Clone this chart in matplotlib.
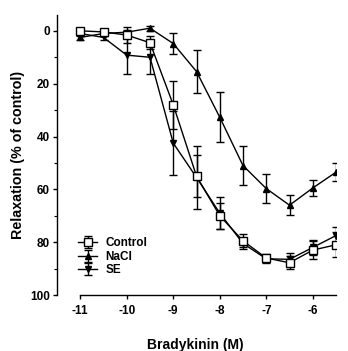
import numpy as np
import matplotlib
matplotlib.use("Agg")
import matplotlib.pyplot as plt
from matplotlib.ticker import MultipleLocator

plt.rcParams['font.family'] = ['Liberation Sans', 'DejaVu Sans']
plt.rcParams['font.weight'] = 'bold'

# log concentration of bradykinin
log_conc = [-11, -10.5, -10, -9.5, -9, -8.5, -8, -7.5, -7, -6.5, -6, -5.5]

# relaxation (% of control) with SEM
control = [0, 0.4, 1.6, 4.5, 28, 55, 70, 79.5, 86, 87.8, 83, 81]
control_err = [1, 1, 3, 2.5, 9, 8, 5, 2.5, 1.5, 2.5, 3.5, 4.7]

nacl = [2.5, 1, 0.5, -1, 4.8, 15.4, 32.7, 51, 59.7, 66, 59.5, 53.5]
nacl_err = [1, 1, 1, 1, 3.8, 8, 9.5, 7.5, 5.6, 3.8, 3.2, 3.5]

se = [1, 2.5, 9.2, 10, 42.5, 55.5, 69, 80.5, 86.3, 86.5, 82, 77.5]
se_err = [1, 1, 7, 6.5, 12, 12, 6, 2, 1.5, 2.5, 3, 3.2]

x_ticks = [-11, -10, -9, -8, -7, -6]
y_ticks = [0, 20, 40, 60, 80, 100]

fig = plt.figure(figsize=(3.48, 3.51), dpi=100)
ax = fig.add_axes([57 / 348, 1 - 295 / 351, 279 / 348, 280 / 351])

common = dict(color='black', lw=1.0, elinewidth=1.0, capsize=3, capthick=1.0)
ax.errorbar(log_conc, nacl, yerr=nacl_err, marker='^', ms=5, mfc='black',
            mec='black', label='NaCl', zorder=2, **common)
ax.errorbar(log_conc, se, yerr=se_err, marker='v', ms=5, mfc='black',
            mec='black', label='SE', zorder=3, **common)
ax.errorbar(log_conc, control, yerr=control_err, marker='s', ms=5.8, mfc='white',
            mec='black', mew=1.0, label='Control', zorder=4, **common)

ax.set_xlim(-11.5, -5.5)
ax.set_ylim(100, -6)
ax.set_xticks(x_ticks)
ax.set_xticklabels([str(t) for t in x_ticks])
ax.set_yticks(y_ticks)
ax.yaxis.set_minor_locator(MultipleLocator(10))

ax.spines['top'].set_visible(False)
ax.spines['right'].set_visible(False)
ax.spines['bottom'].set_bounds(-11, -5.5)
ax.spines['left'].set_linewidth(1.0)
ax.spines['bottom'].set_linewidth(1.0)
ax.tick_params(axis='both', labelsize=8.5, width=1.0, length=3, pad=2)
ax.tick_params(axis='y', which='minor', length=2, width=0.8)
ax.tick_params(axis='x', pad=4)

ax.set_ylabel('Relaxation (% of control)', fontsize=10.3, fontweight='bold', labelpad=4)
fig.text(195 / 348, 1 - 345 / 351, 'Bradykinin (M)', fontsize=10,
         fontweight='bold', ha='center', va='center')

handles, labels = ax.get_legend_handles_labels()
order = [2, 0, 1]
ax.legend([handles[i] for i in order], [labels[i] for i in order],
          loc='lower left', bbox_to_anchor=(0.06, 0.05), frameon=False,
          fontsize=8.5, handlelength=1.6, handletextpad=0.7, labelspacing=0.12,
          borderaxespad=0)

fig.savefig('out.png', dpi=100)
